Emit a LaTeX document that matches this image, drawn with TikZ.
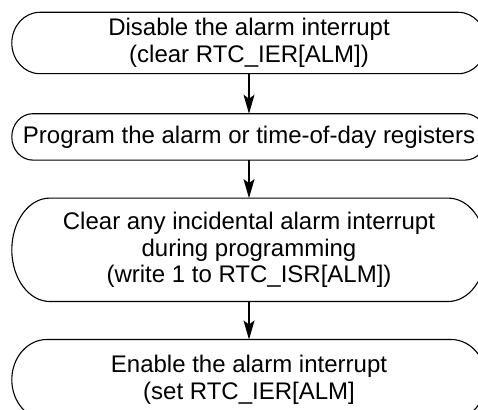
\documentclass[tikz,border=0pt]{standalone}
\usepackage{fontspec}
\setmainfont{Liberation Sans}
\usetikzlibrary{positioning, calc, arrows.meta}

\begin{document}
\begin{tikzpicture}[x=1pt, y=1pt,
			stage/.style={
					rectangle, minimum width=474pt, align=center, inner sep=0pt,
					font=\fontsize{24}{26.5}\selectfont
				},
			outline/.style={line width=1.1pt},
			flow/.style={-{Stealth[length=19pt, width=11pt, inset=4pt]}, line width=1.3pt},
			node distance=38pt
		]
		\useasboundingbox (0,0) rectangle (478,-409);
		\clip (0,0) rectangle (478,-409);

		% The four steps, top to bottom
		\node[stage, minimum height=61pt] (disable) at (249,-43) {Disable the alarm interrupt\\(clear RTC\_IER[ALM])};
		\node[stage, minimum height=46pt, below=40pt of disable] (program) {Program the alarm or time-of-day registers};
		\node[stage, minimum height=103pt, below=of program] (clear) {Clear any incidental alarm interrupt\\during programming\\(write 1 to RTC\_ISR[ALM])};
		\node[stage, minimum height=80pt, below=of clear] (enable) {Enable the alarm interrupt\\(set RTC\_IER[ALM]};

		% Terminator outlines round each step (name/depth of the end arcs)
		\foreach \nm/\d in {disable/28, program/21, clear/38, enable/35}
		\draw[outline] let \p1=(\nm.north), \p2=(\nm.south), \n1={(\y1-\y2)/2} in
			([xshift=\d pt]\nm.north west) -- ([xshift=-\d pt]\nm.north east)
			arc[start angle=90, end angle=-90, x radius=\d pt, y radius=\n1]
			-- ([xshift=\d pt]\nm.south west)
			arc[start angle=270, end angle=90, x radius=\d pt, y radius=\n1] -- cycle;

		% Flow arrows
		\draw[flow] (disable) -- (program);
		\draw[flow] (program) -- (clear);
		\draw[flow] (clear) -- (enable);

	\end{tikzpicture}
\end{document}
